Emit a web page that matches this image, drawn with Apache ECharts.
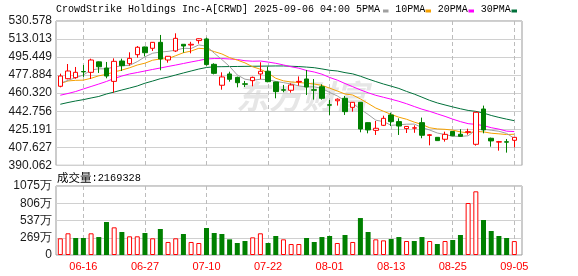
<!DOCTYPE html>
<html><head><meta charset="utf-8">
<script src="https://cdn.jsdelivr.net/npm/echarts@6/dist/echarts.min.js"></script>
<style>html,body{margin:0;padding:0;background:#fff}#c{width:578px;height:276px}</style>
</head><body><div id="c"></div>
<script>
const dates = ['06-11','06-12','06-13','06-16','06-17','06-18','06-20','06-23','06-24','06-25','06-26','06-27',
'06-30','07-01','07-02','07-03','07-07','07-08','07-09','07-10','07-11','07-14','07-15','07-16','07-17','07-18','07-21','07-22',
'07-23','07-24','07-25','07-28','07-29','07-30','07-31','08-01','08-04','08-05','08-06','08-07','08-08','08-11','08-12','08-13',
'08-14','08-15','08-18','08-19','08-20','08-21','08-22','08-25','08-26','08-27','08-28','08-29','09-02','09-03','09-04','09-05'];
const openP = [467.0,474.4,475.4,481.4,480.6,490.8,484.8,471.8,491.6,489.0,497.8,505.3,504.0,509.8,492.6,501.4,507.9,507.2,511.5,513.1,
488.4,468.0,479.0,475.7,469.4,472.5,479.0,481.6,471.2,463.6,463.1,471.2,474.1,463.6,466.6,449.0,452.9,455.3,446.5,451.4,
431.6,424.1,429.0,439.1,432.6,425.8,426.2,431.6,419.2,417.3,415.4,423.0,420.3,422.2,410.5,444.9,416.4,412.6,413.0,414.4];
const closeP = [477.0,481.9,480.6,481.0,492.6,486.0,477.0,491.3,487.1,494.2,505.0,499.7,509.8,493.6,496.2,513.7,506.2,507.9,513.3,488.1,
479.6,476.1,473.8,470.5,469.0,475.7,481.6,471.5,461.8,463.2,468.3,471.8,466.3,463.2,455.3,448.6,454.4,442.3,451.4,425.4,
424.5,426.1,435.8,432.6,428.3,427.9,426.6,419.3,419.8,414.1,420.2,418.8,418.3,422.8,441.7,424.5,413.8,413.1,412.6,417.3];
const lowP = [466.0,473.8,474.4,476.1,474.1,480.0,474.8,460.8,481.9,487.1,494.9,496.2,501.4,482.6,490.0,500.4,499.7,499.1,508.5,487.1,
478.6,463.7,471.5,466.0,466.3,467.0,473.8,470.9,455.3,461.2,460.8,467.6,458.5,454.0,454.0,439.1,448.2,439.1,442.3,422.2,
421.2,419.6,428.3,428.3,419.6,421.5,421.7,416.4,409.5,413.9,413.1,418.6,418.0,419.9,409.2,421.2,408.2,404.3,402.4,407.6];
const highP = [479.3,488.7,485.8,487.7,493.9,491.2,490.7,494.2,493.9,500.1,506.2,505.6,510.1,517.0,496.4,518.6,507.9,510.3,513.6,514.4,
489.4,480.6,481.2,476.4,472.2,476.4,490.4,486.1,471.5,468.3,469.9,476.6,482.9,474.1,468.9,453.7,455.3,457.6,451.7,451.7,
431.9,433.2,438.4,441.3,435.8,428.3,429.0,436.5,420.5,417.5,422.8,423.5,425.2,425.7,441.9,448.2,417.0,413.8,415.7,417.5];
const volume = [260,338,265,265,338,280,514,431,358,291,291,343,260,405,203,260,327,203,187,421,
343,327,244,187,218,275,338,187,296,244,171,171,265,203,280,296,187,312,203,576,
358,244,228,249,280,218,218,280,218,171,218,234,312,810,992,545,374,296,265,216.9];
const volUp = [1,1,0,0,1,0,0,1,0,1,1,0,1,0,1,1,0,1,1,0,0,0,0,0,0,1,1,0,0,1,
1,1,0,0,0,0,1,0,1,0,0,1,1,0,0,1,0,0,1,0,1,0,0,1,1,0,0,0,0,1];
const ma5 = [469.9,472.8,475.4,478.0,482.9,484.0,484.0,485.8,487.0,487.4,491.0,495.7,499.2,500.3,501.0,502.2,504.0,503.8,507.3,506.0,
499.3,493.0,486.3,478.0,473.9,472.8,473.9,473.4,471.7,470.6,469.2,467.4,466.4,466.5,465.0,461.0,457.6,452.9,450.4,444.6,
439.6,434.0,432.6,429.0,429.5,430.1,430.2,426.9,424.4,421.5,420.0,418.4,418.2,418.8,424.4,425.2,424.2,423.2,421.1,416.3];
const ma10 = [469.6,472.2,472.8,473.0,474.8,477.2,478.6,481.0,482.8,485.0,487.7,489.5,492.4,493.6,494.0,496.8,499.7,501.3,504.0,503.4,
500.8,498.5,494.9,492.5,489.8,486.0,483.6,479.9,474.8,472.3,471.2,470.7,470.0,469.2,467.9,465.2,462.4,459.5,458.5,454.7,
450.3,445.8,442.7,439.6,436.9,434.9,432.1,429.8,426.6,425.5,425.1,424.3,422.6,421.6,423.0,422.6,421.3,420.7,420.0,420.3];
const ma20 = [458.3,460.0,461.9,464.4,466.8,469.2,471.7,474.6,477.0,479.0,480.4,481.9,483.4,484.8,486.3,487.7,489.2,490.7,492.1,493.6,
494.0,494.0,493.6,493.1,491.9,491.4,491.6,490.6,489.4,487.8,486.0,484.6,482.4,480.9,478.8,475.6,473.0,469.7,466.6,463.5,
460.7,458.2,456.3,454.4,452.4,450.0,447.3,444.7,442.6,440.1,437.7,435.0,432.6,430.6,429.9,428.7,426.7,425.3,423.3,422.9];
const ma30 = [449.5,451.2,452.7,454.0,455.6,457.1,459.5,461.4,463.4,465.3,467.3,470.0,472.1,474.4,476.0,478.0,480.0,481.9,483.8,485.3,
486.0,486.1,486.2,486.3,486.4,486.5,486.6,486.7,486.8,486.8,486.5,486.2,485.7,485.1,483.9,482.6,481.9,480.3,479.1,476.8,
474.1,471.6,469.2,467.1,464.9,462.0,459.4,456.4,453.3,450.8,448.8,446.9,445.1,443.5,442.6,440.9,438.6,436.7,435.0,433.5];
const priceTicks = ['390.062','407.627','425.191','442.756','460.320','477.884','495.449','513.013','530.578'];
const volTicks = ['0','269万','537万','806万','1075万'];
const labelIdx = [3,11,19,27,35,43,51,59];
const titleText = 'CrowdStrike Holdings Inc-A[CRWD] 2025-09-06 04:00 5PMA';
const maNames = ['10PMA','20PMA','30PMA'];
const volText = '2169328';

const pMin = 390.062, pStep = 17.5645;
const vStep = 268.75;
const RED = '#ff0000', GREEN = '#008000';
const maColors = ['#a0a0a0','#f5a000','#ff00ff','#00703a'];

const candleData = dates.map((d,i)=>[i, openP[i], closeP[i], lowP[i], highP[i]]);
const lineOf = arr => arr.map((v,i)=>[i,v]);
const volData = volume.map((v,i)=> volUp[i]
  ? {value:[i,v], itemStyle:{color:'#ffffff', borderColor:RED, borderWidth:1}}
  : {value:[i,v], itemStyle:{color:GREEN}});

const chart = echarts.init(document.getElementById('c'), null, {renderer:'canvas'});
const xBase = (gi, showLabel) => ({
  type:'value', gridIndex:gi, min:-0.56, max:60,
  axisLine:{show:false},
  axisTick:{show:false, customValues:labelIdx},
  axisLabel:{show:showLabel, customValues:labelIdx, formatter:v=>dates[Math.round(v)],
    color:RED, fontSize:11, fontFamily:'Liberation Sans', margin:6},
  splitLine:{show:true, lineStyle:{color:'#bcbcbc', type:[4,3], width:1}}
});
const lineSeries = (arr, c) => ({type:'line', xAxisIndex:0, yAxisIndex:0, data:lineOf(arr),
  showSymbol:false, symbol:'none', silent:true, lineStyle:{color:c, width:1}, z:2});
const T = (x, y, text, font) => ({type:'text', x:x, y:y,
  style:{text:text, font:font, fill:'#000', verticalAlign:'middle', textVerticalAlign:'middle'}});

const option = {
  animation:false,
  textStyle:{fontFamily:'Liberation Sans'},
  grid:[
    {left:56, top:21, width:466, height:144.3, show:true, borderColor:'#999', borderWidth:1},
    {left:56, top:186, width:466, height:69, show:true, borderColor:'#999', borderWidth:1}
  ],
  xAxis:[xBase(0,false), xBase(1,true)],
  yAxis:[
    {type:'value', gridIndex:0, min:pMin, max:530.578, interval:pStep,
     axisLine:{show:false}, axisTick:{show:false},
     axisLabel:{color:'#1a1a1a', fontSize:12, margin:4, showMinLabel:true, showMaxLabel:true,
       formatter:v=>priceTicks[Math.round((v-pMin)/pStep)]},
     splitLine:{show:true, lineStyle:{color:'#d0d0d0', width:1}}},
    {type:'value', gridIndex:1, min:0, max:1075, interval:vStep,
     axisLine:{show:false}, axisTick:{show:false},
     axisLabel:{color:'#1a1a1a', fontSize:12, margin:4, showMinLabel:true, showMaxLabel:true,
       formatter:v=>volTicks[Math.round(v/vStep)]},
     splitLine:{show:true, lineStyle:{color:'#d0d0d0', width:1}}}
  ],
  graphic:[
    {type:'text', x:236, y:96, z:-10, silent:true,
     style:{text:'东方财富', font:'italic bold 33px "Noto Sans CJK SC"', fill:'#e6e6e6', verticalAlign:'middle', textVerticalAlign:'middle'}},
    T(56, 9.5, titleText, '10px "Liberation Mono"'),
    {type:'rect', shape:{x:383, y:9.5, width:5.5, height:3}, style:{fill:maColors[0]}},
    T(395.3, 9.5, maNames[0], '10px "Liberation Mono"'),
    {type:'rect', shape:{x:425.5, y:9.5, width:5.5, height:3}, style:{fill:maColors[1]}},
    T(437.7, 9.5, maNames[1], '10px "Liberation Mono"'),
    {type:'rect', shape:{x:468.5, y:9.5, width:5.5, height:3}, style:{fill:maColors[2]}},
    T(480.7, 9.5, maNames[2], '10px "Liberation Mono"'),
    {type:'rect', shape:{x:511.5, y:9.5, width:5.5, height:3}, style:{fill:maColors[3]}},
    T(57, 178, '成交量', '11.5px "Noto Sans CJK SC"'),
    T(91.5, 178.5, ':'+volText, '10.3px "Liberation Mono"')
  ],
  series:[
    lineSeries(ma30, maColors[3]),
    lineSeries(ma20, maColors[2]),
    lineSeries(ma10, maColors[1]),
    lineSeries(ma5, maColors[0]),
    {type:'candlestick', xAxisIndex:0, yAxisIndex:0, data:candleData, barWidth:5, z:3,
     itemStyle:{color:'#ffffff', color0:GREEN, borderColor:RED, borderColor0:GREEN, borderWidth:1}},
    {type:'bar', xAxisIndex:1, yAxisIndex:1, data:volData, barWidth:5}
  ]
};
chart.setOption(option);
</script></body></html>
